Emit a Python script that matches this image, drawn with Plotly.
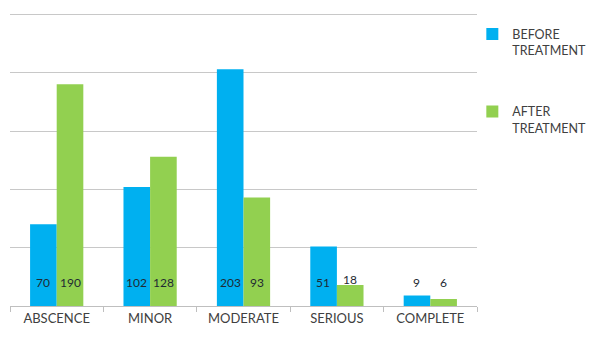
import plotly.graph_objects as go

categories = ["ABSCENCE", "MINOR", "MODERATE", "SERIOUS", "COMPLETE"]
before = [70, 102, 203, 51, 9]
after = [190, 128, 93, 18, 6]
series_names = ["BEFORE<br>TREATMENT", "AFTER<br>TREATMENT"]
label_level = 20

BLUE = "#00b0f0"
GREEN = "#92d050"
FONT = "Lato, 'Open Sans', sans-serif"

fig = go.Figure()
fig.add_trace(go.Bar(x=categories, y=before, name=series_names[0], marker_color=BLUE,
                     marker_line_width=0, offsetgroup="b", legendgroup="b"))
fig.add_trace(go.Bar(x=categories, y=after, name=series_names[1], marker_color=GREEN,
                     marker_line_width=0, offsetgroup="a", legendgroup="a"))

annotations = []
for vals, shift in ((before, -13.5), (after, 13.5)):
    for c, v in zip(categories, vals):
        y = label_level if v >= 30 else max(label_level, v + 5)
        annotations.append(dict(x=c, y=y, text=str(v), showarrow=False,
                                xshift=shift, yanchor="middle", xanchor="center",
                                font=dict(size=12, color="#1f2a33", family=FONT)))

fig.update_layout(
    width=590, height=337,
    margin=dict(l=10, r=113, t=12, b=31, autoexpand=False),
    paper_bgcolor="white", plot_bgcolor="white",
    barmode="group", bargap=0.43, bargroupgap=0,
    font=dict(family=FONT, color="#404040"),
    showlegend=True,
    legend=dict(x=0.99, y=0.975, xanchor="left", yanchor="top", valign="top",
                font=dict(size=12.5, color="#404040", family=FONT),
                tracegroupgap=42, itemwidth=30, bgcolor="rgba(0,0,0,0)"),
    annotations=annotations,
    xaxis=dict(showline=True, linecolor="#bfbfbf", linewidth=1.2, ticks="outside",
               tickson="boundaries", ticklen=5, tickcolor="#bfbfbf",
               tickfont=dict(size=13, color="#404040", family=FONT), showgrid=False),
    yaxis=dict(range=[0, 252], dtick=50, showticklabels=False, showgrid=True,
               gridcolor="#c8c8c8", gridwidth=1.2, zeroline=False, showline=False),
)
fig.write_html("out.html")
